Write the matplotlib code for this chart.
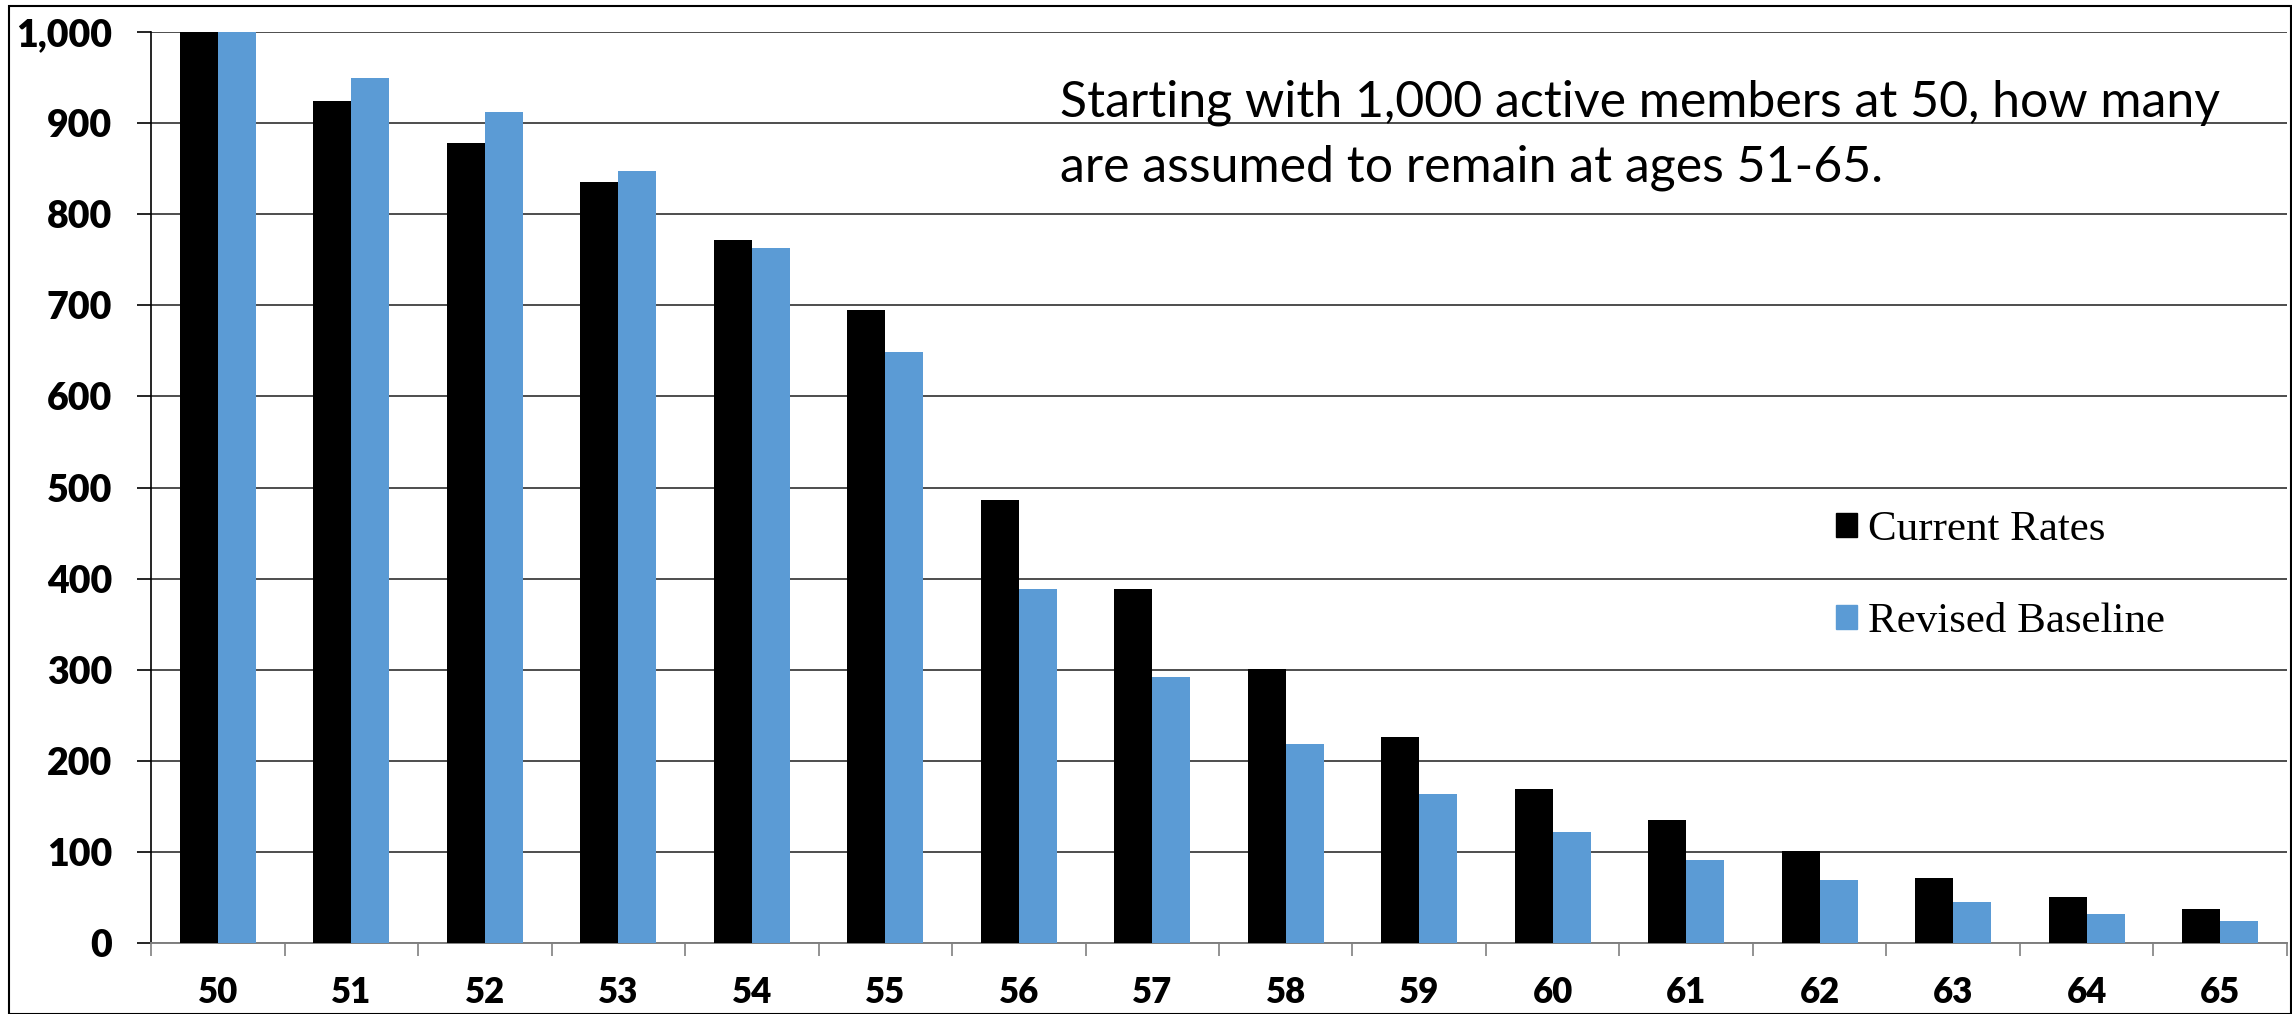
import matplotlib
matplotlib.use('Agg')
import matplotlib.pyplot as plt
from matplotlib.patches import Patch, Rectangle
import numpy as np

ages = ['50', '51', '52', '53', '54', '55', '56', '57', '58', '59', '60', '61', '62', '63', '64', '65']
current_rates = [1000, 924, 878, 835, 772, 695, 486, 389, 301, 226, 169, 135, 101, 71, 51, 37]
revised_baseline = [1000, 950, 912, 848, 763, 649, 389, 292, 218, 164, 122, 91, 69, 45, 32, 24]
note = 'Starting with 1,000 active members at 50, how many\nare assumed to remain at ages 51-65.'

black = '#000000'
blue = '#5B9BD5'

fig = plt.figure(figsize=(22.92, 10.14), dpi=100)
ax = fig.add_axes([0.0659, 0.0700, 0.9319, 0.8984])

x = np.arange(len(ages))
w = 0.285
ax.bar(x - w / 2, current_rates, w, color=black, label='Current Rates', zorder=3)
ax.bar(x + w / 2, revised_baseline, w, color=blue, label='Revised Baseline', zorder=3)

ax.set_xlim(-0.5, len(ages) - 0.5)
ax.set_ylim(0, 1000)
ax.set_yticks(range(0, 1001, 100))
ax.set_yticklabels(['{:,}'.format(v) for v in range(0, 1001, 100)],
                   fontfamily='Lato', fontweight='heavy', fontsize=27)
ax.yaxis.grid(True, color='#4d4d4d', lw=1.4, zorder=1)
ax.tick_params(axis='y', length=10, width=1.2, pad=18, color=black)

ax.set_xticks(x)
ax.set_xticklabels(ages, fontfamily='Lato', fontweight='heavy', fontsize=25)
ax.set_xticks(np.arange(-0.5, len(ages)), minor=True)
ax.tick_params(axis='x', which='major', length=0, pad=24)
ax.tick_params(axis='x', which='minor', length=9, width=1.2, color='#808080')

for s in ['top', 'right']:
    ax.spines[s].set_visible(False)
ax.spines['left'].set_color(black)
ax.spines['left'].set_linewidth(1.2)
ax.spines['bottom'].set_color('#808080')
ax.spines['bottom'].set_linewidth(1.4)

fig.text(1060 / 2292, 1 - 135 / 1014, note, fontfamily='Lato', fontsize=36,
         va='center', ha='left', linespacing=1.5)

handles = [Patch(color=black), Patch(color=blue)]
ax.legend(handles, ['Current Rates', 'Revised Baseline'], loc='center left',
          bbox_to_anchor=(1814 / 2292, 1 - 576 / 1014), bbox_transform=fig.transFigure,
          frameon=False, borderpad=0, handlelength=0.5, handleheight=0.5,
          handletextpad=0.25, labelspacing=1.25,
          prop={'family': 'Liberation Serif', 'size': 31})

# outer chart border
fig.patches.append(Rectangle((9 / 2292, 0), 1 - 9 / 2292 - 0.0005, 1 - 6 / 1014,
                             transform=fig.transFigure, fill=False,
                             edgecolor=black, lw=1.5))

plt.savefig('out.png', dpi=100)
